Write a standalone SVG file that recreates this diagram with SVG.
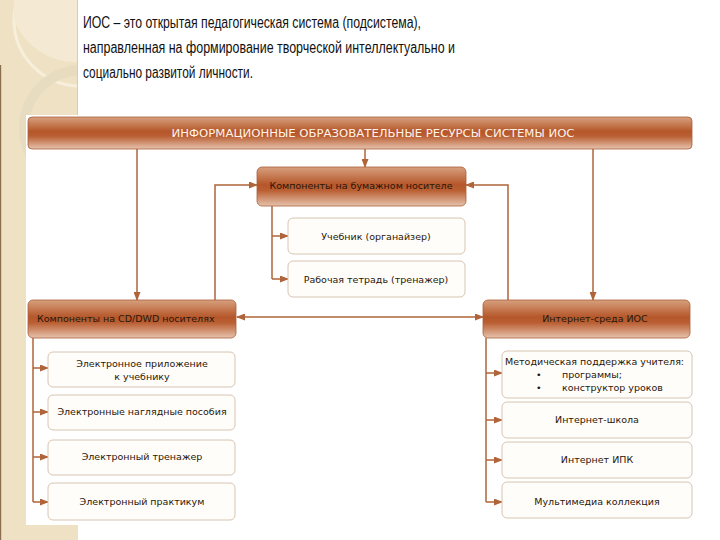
<svg xmlns="http://www.w3.org/2000/svg" width="720" height="540" viewBox="0 0 720 540">
<defs>
<style>
.conn{fill:none;stroke:#b0643a;stroke-width:1.5}
.dark{stroke:#a8603a;stroke-width:0.8}
.light{fill:#fffdf9;stroke:#d6c4b2;stroke-width:1}
.t{font-family:"DejaVu Sans",Verdana,sans-serif;font-size:9.5px;fill:#2a1608;text-anchor:middle}
.tl{font-family:"DejaVu Sans",Verdana,sans-serif;font-size:9.5px;fill:#2a1608}
.top{font-family:"Liberation Sans",Arial,sans-serif;font-size:16px;fill:#111}
</style>
<linearGradient id="g" x1="0" y1="0" x2="0" y2="1">
<stop offset="0" stop-color="#d7a07e"/>
<stop offset="0.45" stop-color="#b5572a"/>
<stop offset="0.6" stop-color="#ba5f33"/>
<stop offset="1" stop-color="#e6c3ad"/>
</linearGradient>
<marker id="a" markerUnits="userSpaceOnUse" markerWidth="9" markerHeight="7" refX="8" refY="3.5" orient="auto">
<path d="M0,0 L9,3.5 L0,7 z" fill="#b0643a"/>
</marker>
<marker id="as" markerUnits="userSpaceOnUse" markerWidth="9" markerHeight="7" refX="1" refY="3.5" orient="auto">
<path d="M9,0 L0,3.5 L9,7 z" fill="#b0643a"/>
</marker>
<clipPath id="bg"><path d="M0,0H78V115H26V525H78V540H0z"/></clipPath>
</defs>
<rect width="720" height="540" fill="#fff"/>
<g id="background">
<path d="M0,0H78V115H26V525H78V540H0z" fill="#efe2c4"/>
<g clip-path="url(#bg)" fill="none">
<circle cx="80" cy="20" r="66" stroke="#f7efdc" stroke-width="3"/>
<path d="M0,0H78V62A66,66 0 0 1 14,20V0z" fill="#f4ead3"/>
<circle cx="82" cy="128" r="58" stroke="#e8dcc0" stroke-width="10"/>
</g>
<rect x="0" y="65" width="1.2" height="475" fill="#8a7050"/>
<rect x="77" y="0" width="1" height="115" fill="#d9ccb0"/>
</g>
<g id="title">
<text class="top" x="83" y="28" textLength="338" lengthAdjust="spacingAndGlyphs">ИОС – это открытая педагогическая система (подсистема),</text>
<text class="top" x="83" y="53" textLength="372" lengthAdjust="spacingAndGlyphs">направленная на формирование творческой интеллектуально и</text>
<text class="top" x="83" y="78" textLength="170" lengthAdjust="spacingAndGlyphs">социально развитой личности.</text>
</g>
<g id="connectors">
<path class="conn" d="M365,149V167" marker-end="url(#a)"/>
<path class="conn" d="M137,149V300" marker-end="url(#a)"/>
<path class="conn" d="M593,149V300" marker-end="url(#a)"/>
<path class="conn" d="M215,300V185H257" marker-end="url(#a)"/>
<path class="conn" d="M508,300V185H466" marker-end="url(#a)"/>
<path class="conn" d="M237,317H483" marker-start="url(#as)" marker-end="url(#a)"/>
<path class="conn" d="M272,206V279"/>
<path class="conn" d="M272,236H288" marker-end="url(#a)"/>
<path class="conn" d="M272,279H288" marker-end="url(#a)"/>
<path class="conn" d="M33,338V502"/>
<path class="conn" d="M33,368H48" marker-end="url(#a)"/>
<path class="conn" d="M33,412H48" marker-end="url(#a)"/>
<path class="conn" d="M33,457H48" marker-end="url(#a)"/>
<path class="conn" d="M33,502H48" marker-end="url(#a)"/>
<path class="conn" d="M486,338V502"/>
<path class="conn" d="M486,373H502" marker-end="url(#a)"/>
<path class="conn" d="M486,420H502" marker-end="url(#a)"/>
<path class="conn" d="M486,460H502" marker-end="url(#a)"/>
<path class="conn" d="M486,502H502" marker-end="url(#a)"/>
</g>
<g id="header">
<rect x="28" y="117" width="664" height="32" rx="4" fill="url(#g)" class="dark"/>
<text x="373" y="137" textLength="403" lengthAdjust="spacingAndGlyphs" style="font-family:'DejaVu Sans',Verdana,sans-serif;font-size:10px;fill:#fff4ec;text-anchor:middle">ИНФОРМАЦИОННЫЕ ОБРАЗОВАТЕЛЬНЫЕ РЕСУРСЫ СИСТЕМЫ ИОС</text>
</g>
<g id="paper">
<rect x="257" y="167" width="209" height="39" rx="5" fill="url(#g)" class="dark"/>
<text class="t" x="361" y="189">Компоненты на бумажном носителе</text>
</g>
<g id="textbook">
<rect class="light" x="288" y="218" width="177" height="36" rx="5"/>
<text class="t" x="376" y="240">Учебник (органайзер)</text>
</g>
<g id="workbook">
<rect class="light" x="288" y="261" width="177" height="36" rx="5"/>
<text class="t" x="376" y="283">Рабочая тетрадь (тренажер)</text>
</g>
<g id="cd">
<rect x="28" y="300" width="208" height="38" rx="5" fill="url(#g)" class="dark"/>
<text class="tl" x="37" y="322">Компоненты на CD/DWD носителях</text>
</g>
<g id="internet">
<rect x="483" y="300" width="207" height="38" rx="5" fill="url(#g)" class="dark"/>
<text class="t" x="595" y="322">Интернет-среда ИОС</text>
</g>
<g id="e-app">
<rect class="light" x="48" y="352" width="187" height="35" rx="5"/>
<text class="t" x="142" y="367">Электронное приложение</text>
<text class="t" x="142" y="380">к учебнику</text>
</g>
<g id="e-visual">
<rect class="light" x="48" y="395" width="187" height="35" rx="5"/>
<text class="t" x="142" y="415">Электронные наглядные пособия</text>
</g>
<g id="e-trainer">
<rect class="light" x="48" y="440" width="187" height="35" rx="5"/>
<text class="t" x="142" y="460">Электронный тренажер</text>
</g>
<g id="e-practicum">
<rect class="light" x="48" y="483" width="187" height="37" rx="5"/>
<text class="t" x="142" y="505">Электронный практикум</text>
</g>
<g id="method">
<rect class="light" x="502" y="351" width="190" height="47" rx="5"/>
<text class="tl" x="505" y="365">Методическая поддержка учителя:</text>
<text class="tl" x="536" y="378">•</text>
<text class="tl" x="562" y="378">программы;</text>
<text class="tl" x="536" y="391">•</text>
<text class="tl" x="562" y="391">конструктор уроков</text>
</g>
<g id="school">
<rect class="light" x="502" y="402" width="190" height="36" rx="5"/>
<text class="t" x="597" y="423">Интернет-школа</text>
</g>
<g id="ipk">
<rect class="light" x="502" y="442" width="190" height="36" rx="5"/>
<text class="t" x="597" y="463">Интернет ИПК</text>
</g>
<g id="multimedia">
<rect class="light" x="502" y="482" width="190" height="36" rx="5"/>
<text class="t" x="597" y="505">Мультимедиа коллекция</text>
</g>
</svg>
